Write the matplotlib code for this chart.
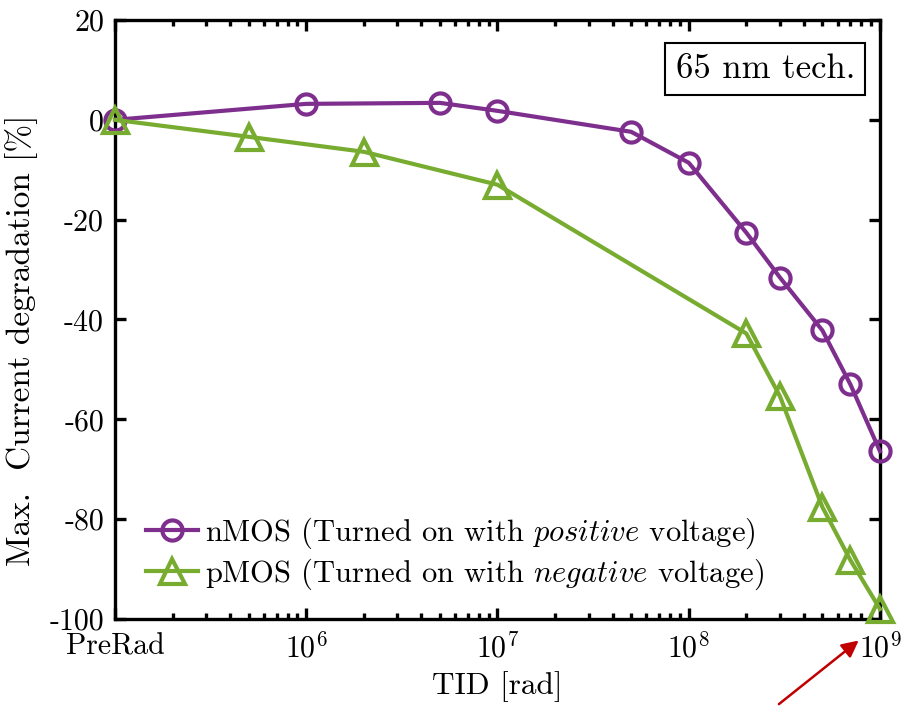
import matplotlib
matplotlib.use("Agg")
import matplotlib.pyplot as plt
import numpy as np

plt.rcParams['font.family'] = ['cmr10']
plt.rcParams['mathtext.fontset'] = 'cm'
plt.rcParams['axes.unicode_minus'] = False
plt.rcParams['axes.formatter.use_mathtext'] = True

PRERAD_X = 1e5  # axis position used for the "PreRad" point

nmos_tid = [PRERAD_X, 1e6, 5e6, 1e7, 5e7, 1e8, 2e8, 3e8, 5e8, 7e8, 1e9]
nmos_deg = [0.0, 3.2, 3.4, 1.8, -2.4, -8.6, -22.6, -31.6, -42.2, -53.0, -66.4]

pmos_tid = [PRERAD_X, 5e5, 2e6, 1e7, 2e8, 3e8, 5e8, 7e8, 1e9]
pmos_deg = [0.0, -3.4, -6.4, -13.0, -42.8, -55.4, -77.6, -88.2, -98.0]

xtick_vals = [PRERAD_X, 1e6, 1e7, 1e8, 1e9]
xtick_labels = ['PreRad', r'$10^{6}$', r'$10^{7}$', r'$10^{8}$', r'$10^{9}$']
ytick_vals = [20, 0, -20, -40, -60, -80, -100]

purple = '#7E2F8E'
green = '#77AC30'
fs_tick = 21.5

fig = plt.figure(figsize=(9.04, 7.06), dpi=100)
ax = fig.add_axes([115/904, 87/706, 765/904, 599/706])

ax.plot(nmos_tid, nmos_deg, color=purple, lw=3.0, marker='o', ms=14.5,
        mfc='none', mec=purple, mew=3.0, clip_on=False, zorder=3,
        label=r'nMOS (Turned on with $\mathit{positive}$ voltage)')
ax.plot(pmos_tid, pmos_deg, color=green, lw=3.0, marker='^', ms=18,
        mfc='none', mec=green, mew=3.0, clip_on=False, zorder=3,
        label=r'pMOS (Turned on with $\mathit{negative}$ voltage)')

ax.set_xscale('log')
ax.set_xlim(1e5, 1e9)
ax.set_ylim(-100, 20)
ax.set_xticks(xtick_vals)
ax.set_xticklabels(xtick_labels)
ax.set_yticks(ytick_vals)
ax.set_yticklabels([str(v) for v in ytick_vals])

for s in ax.spines.values():
    s.set_linewidth(2.4)
ax.tick_params(which='both', direction='in', top=True, right=True,
               labelsize=fs_tick)
ax.tick_params(axis='y', pad=8)
ax.tick_params(axis='x', pad=10)
ax.tick_params(which='major', length=8, width=2.4)
ax.tick_params(which='minor', length=4.5, width=2.4)

ax.set_xlabel('TID [rad]', fontsize=22.5)
ax.set_ylabel('Max.  Current degradation [%]', fontsize=24)
ax.xaxis.set_label_coords(0.5, -0.087)
ax.yaxis.set_label_coords(-0.100, 0.466)

ax.legend(loc='center left', bbox_to_anchor=(0.04, 0.109), frameon=False,
          fontsize=22, handlelength=1.7, handletextpad=0.25,
          labelspacing=0.2, borderpad=0, borderaxespad=0)

ax.text(0.85, 0.918, '65 nm tech.', transform=ax.transAxes, fontsize=25,
        ha='center', va='center',
        bbox=dict(boxstyle='square,pad=0.3', fc='white', ec='black', lw=1.5))

ax.annotate('', xy=(0.975, -0.033), xycoords='axes fraction',
            xytext=(0.865, -0.145), textcoords='axes fraction',
            annotation_clip=False,
            arrowprops=dict(arrowstyle='-|>', color='#C00000', lw=1.8,
                            mutation_scale=25))

fig.savefig('out.png', dpi=100)
